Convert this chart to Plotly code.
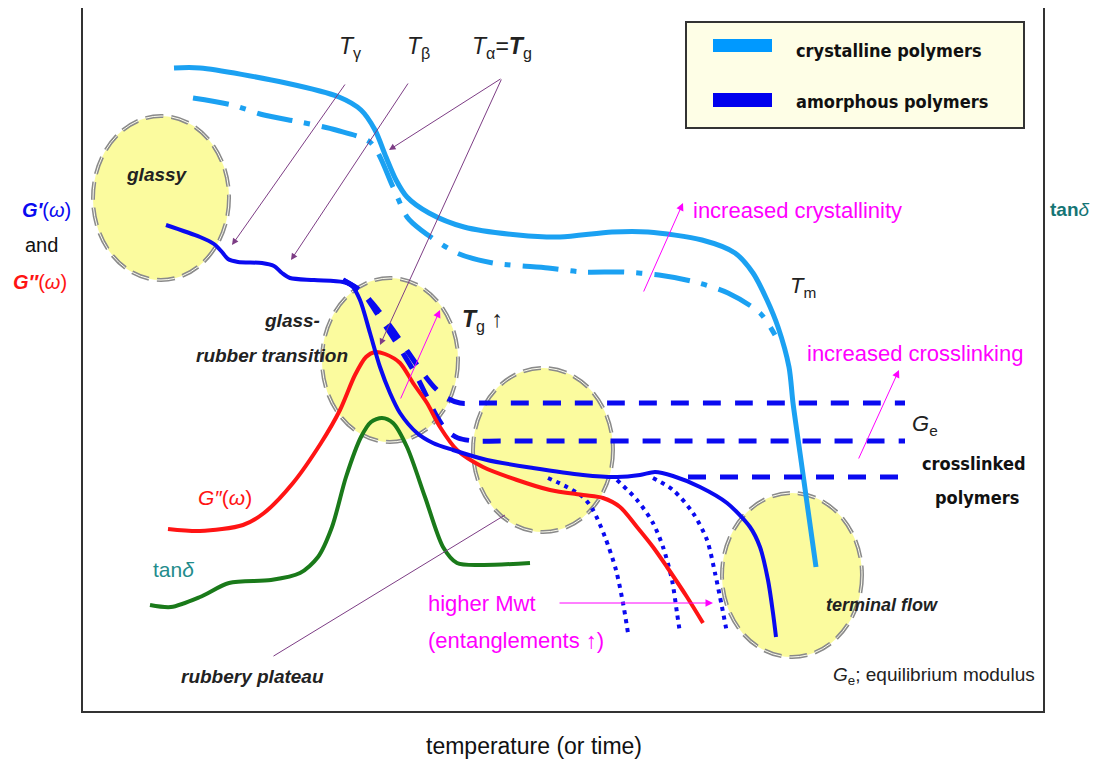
import plotly.graph_objects as go

# ---------------- data read from the schematic (x = temperature, y = modulus level, screen units) -------------
cryst_x = [174, 200, 286, 339, 361, 375, 386, 396, 407, 429, 464, 518, 560, 612, 648, 702, 735, 753, 767, 778, 789, 793, 800, 807, 816]
cryst_y = [68, 68, 83, 97, 110, 130, 157, 180, 197, 213, 227, 235, 237, 232, 232, 240, 253, 273, 300, 327, 367, 403, 453, 503, 567]

cryst2_x = [193, 232, 264, 300, 336, 371, 393, 407, 421, 457, 493, 548, 583, 623, 659, 695, 728, 760, 775]
cryst2_y = [98, 105, 115, 122, 130, 143, 187, 217, 230, 253, 263, 268, 272, 272, 275, 282, 293, 313, 335]

gp_x = [166, 200, 214, 222, 228, 238, 262, 274, 282, 290, 314, 343, 352, 360, 370, 380, 390, 400, 417, 433, 453, 487,
        533, 583, 617, 640, 655, 673, 700, 727, 750, 760, 768, 773, 776]
gp_y = [225, 237, 244, 252, 259, 262, 263, 266, 273, 278, 280, 282, 286, 300, 333, 367, 393, 413, 433, 443, 450, 460,
        468, 475, 477, 475, 472, 476, 487, 503, 527, 547, 580, 613, 637]

xlA_x = [343, 362, 378, 393, 408, 422, 435, 447, 460, 480, 905]
xlA_y = [280, 292, 310, 330, 352, 372, 388, 398, 403, 403, 403]
xlB_x = [343, 362, 376, 390, 404, 416, 426, 436, 446, 458, 475, 500, 905]
xlB_y = [280, 292, 312, 333, 355, 375, 395, 415, 430, 438, 441, 441, 441]
xlC_x = [688, 908]
xlC_y = [477, 477]

mw1_x = [548, 567, 583, 593, 605, 616, 623, 628]
mw1_y = [478, 487, 497, 510, 537, 570, 603, 633]
mw2_x = [617, 637, 653, 663, 672, 677, 680]
mw2_y = [480, 500, 523, 547, 580, 613, 633]
mw3_x = [653, 673, 693, 707, 715, 722, 727]
mw3_y = [478, 490, 513, 540, 573, 607, 633]

gpp_x = [168, 200, 243, 264, 293, 321, 340, 355, 366, 375, 385, 400, 413, 427, 440, 457, 483, 517, 550, 583, 603, 620,
         637, 653, 667, 687, 703]
gpp_y = [529, 531, 525, 513, 483, 443, 410, 375, 357, 352, 354, 363, 383, 403, 427, 450, 467, 480, 490, 495, 498, 507,
         527, 547, 567, 597, 623]

tan_x = [150, 171, 200, 229, 271, 300, 318, 332, 346, 361, 371, 382, 393, 407, 425, 443, 457, 482, 530]
tan_y = [605, 607, 597, 583, 580, 573, 557, 527, 477, 437, 422, 418, 423, 447, 497, 547, 563, 565, 563]

region_x = [161, 390, 543, 792]
region_y = [198, 360, 450, 575]
region_rx = [68, 68, 70, 70]
region_ry = [82, 82, 82, 82]

legend_labels = ["crystalline polymers", "amorphous polymers"]

# ---------------- styles ----------------
LB = "#1ba1f2"
DB = "#0a0af0"
RED = "#ff1414"
GRN = "#1a7a1a"
MAG = "#ff00ff"
PUR = "#7d3d85"
FONT = "Liberation Sans Narrow, Liberation Sans, Arial"
COMIC = "DejaVu Sans Condensed, DejaVu Sans"

# axis ranges (plot area) in screen units
X0, X1 = 83, 1043
Y0, Y1 = 8, 711

fig = go.Figure()


def line(x, y, color, width, dash="solid"):
    fig.add_trace(go.Scatter(x=x, y=y, mode="lines", line=dict(color=color, width=width, dash=dash,
                                                                    shape="spline", smoothing=0.8),
                             hoverinfo="skip", showlegend=False))


line(cryst2_x, cryst2_y, LB, 5, "36px,12px,6px,12px")
line(cryst_x, cryst_y, LB, 5)
line(xlA_x, xlA_y, DB, 5, "18px,14px")
line(xlB_x, xlB_y, DB, 5, "18px,14px")
line(xlC_x, xlC_y, DB, 5, "18px,14px")
line(mw1_x, mw1_y, DB, 4, "4px,5px")
line(mw2_x, mw2_y, DB, 4, "4px,5px")
line(mw3_x, mw3_y, DB, 4, "4px,5px")
line(tan_x, tan_y, GRN, 4)
line(gpp_x, gpp_y, RED, 4)
line(gp_x, gp_y, DB, 4)

shapes = []
for cx, cy, rx, ry in zip(region_x, region_y, region_rx, region_ry):
    shapes.append(dict(type="circle", xref="x", yref="y", x0=cx - rx, x1=cx + rx, y0=cy - ry, y1=cy + ry,
                       fillcolor="#fbfb9e", line=dict(color="#8a8a8a", width=4, dash="18px,8px"), layer="below"))
    shapes.append(dict(type="circle", xref="x", yref="y", x0=cx - rx, x1=cx + rx, y0=cy - ry, y1=cy + ry,
                       fillcolor="rgba(0,0,0,0)", line=dict(color="#fdfdf0", width=1, dash="18px,8px"), layer="below"))

# legend box
shapes.append(dict(type="rect", xref="x", yref="y", x0=686, x1=1024, y0=22, y1=128,
                   fillcolor="#fefee6", line=dict(color="#333333", width=2), layer="above"))
shapes.append(dict(type="rect", xref="x", yref="y", x0=713, x1=772, y0=39, y1=52,
                   fillcolor="#0099ff", line=dict(width=0), layer="above"))
shapes.append(dict(type="rect", xref="x", yref="y", x0=713, x1=772, y0=93, y1=107,
                   fillcolor="#0000ee", line=dict(width=0), layer="above"))

ann = []


def txt(x, y, s, size=20, color="black", xanchor="center", family=FONT):
    inside = X0 <= x <= X1 and Y0 <= y <= Y1
    if inside:
        pos = dict(x=x, y=y, xref="x", yref="y")
    else:
        pos = dict(x=(x - X0) / (X1 - X0), y=(Y1 - y) / (Y1 - Y0), xref="paper", yref="paper")
    ann.append(dict(**pos, text=s, showarrow=False, xanchor=xanchor, yanchor="middle",
                    font=dict(family=family, size=size, color=color)))


def arrow(x0, y0, x1, y1, color=PUR, width=1, head=2, size=1.3):
    ann.append(dict(x=x1, y=y1, ax=x0, ay=y0, xref="x", yref="y", axref="x", ayref="y", text="",
                    showarrow=True, arrowhead=head, arrowsize=size, arrowwidth=width, arrowcolor=color))


txt(794, 50, "<b>" + legend_labels[0] + "</b>", 18, "#111", "left", COMIC)
txt(794, 101, "<b>" + legend_labels[1] + "</b>", 18, "#111", "left", COMIC)

txt(350, 47, "<i>T</i><sub>γ</sub>", 23, "#222")
txt(418, 47, "<i>T</i><sub>β</sub>", 23, "#222")
txt(502, 47, "<i>T</i><sub>α</sub>=<b><i>T</i></b><sub>g</sub>", 23, "#222")

txt(157, 174, "<b><i>glassy</i></b>", 19, "#222")
txt(322, 320, "<b><i>glass-</i></b>", 19, "#222", "right")
txt(272, 355, "<b><i>rubber transition</i></b>", 19, "#222")
txt(460, 320, "<b><i>T</i></b><sub>g</sub> <b>↑</b>", 23, "#222", "left")

txt(46, 210, "<b><i>G′</i></b>(<i>ω</i>)", 20, DB)
txt(41, 245, "and", 20, "#111")
txt(40, 282, "<b><i>G″</i></b>(<i>ω</i>)", 20, RED)
txt(1092, 210, "<b>tan</b><i>δ</i>", 19, "#157575", "right")

txt(691, 210, "increased crystallinity", 22, MAG, "left")
txt(788, 287, "<i>T</i><sub>m</sub>", 22, "#222", "left")
txt(805, 353, "increased crosslinking", 22, MAG, "left")
txt(910, 425, "<i>G</i><sub>e</sub>", 22, "#222", "left")
txt(973, 463, "<b>crosslinked</b>", 18, "#111", "center", COMIC)
txt(977, 497, "<b>polymers</b>", 18, "#111", "center", COMIC)

txt(225, 497, "<i>G″</i>(<i>ω</i>)", 21, RED)
txt(173, 569, "tan<i>δ</i>", 21, "#238c8c")
txt(426, 603, "higher Mwt", 22, MAG, "left")
txt(426, 640, "(entanglements ↑)", 22, MAG, "left")
txt(882, 605, "<b><i>terminal flow</i></b>", 18, "#222")
txt(252, 676, "<b><i>rubbery plateau</i></b>", 19, "#222")
txt(1037, 676, "<i>G</i><sub>e</sub>; equilibrium modulus", 19, "#222", "right")
txt(534, 746, "temperature (or time)", 23, "#111")

# thin purple pointer arrows
arrow(346, 83, 232, 245)
arrow(409, 82, 291, 260)
arrow(502, 78, 389, 150)
arrow(502, 78, 380, 345)
ann.append(dict(x=505, y=515, ax=272, ay=657, xref="x", yref="y", axref="x", ayref="y", text="",
                showarrow=True, arrowhead=0, arrowwidth=1, arrowcolor=PUR))
# magenta arrows
arrow(643, 293, 683, 203, MAG, 1, 2, 1.5)
arrow(400, 400, 440, 310, MAG, 1, 2, 1.5)
arrow(858, 460, 899, 370, MAG, 1, 2, 1.5)
arrow(558, 603, 713, 603, MAG, 1, 2, 1.5)

# the page body has an 8px margin, so the figure is drawn 8px smaller and the plot area shifted accordingly
fig.update_layout(
    width=1096, height=757, margin=dict(l=X0 - 8, r=1096 - (X1 - 8), t=Y0 - 8, b=757 - (Y1 - 8)),
    paper_bgcolor="white", plot_bgcolor="white",
    shapes=shapes, annotations=ann, showlegend=False,
    xaxis=dict(range=[X0, X1], showgrid=False, zeroline=False, showticklabels=False, ticks="",
               showline=True, linecolor="#333333", linewidth=2, mirror=False),
    yaxis=dict(range=[Y1, Y0], showgrid=False, zeroline=False, showticklabels=False, ticks="",
               showline=True, linecolor="#333333", linewidth=2, mirror=True),
)

fig.write_html("out.html")
